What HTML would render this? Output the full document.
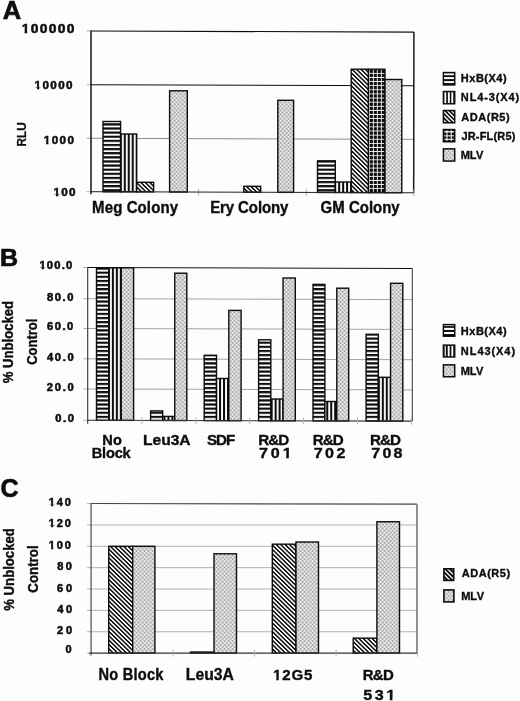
<!DOCTYPE html>
<html><head><meta charset="utf-8"><title>Figure</title>
<style>
html,body{margin:0;padding:0;background:#fdfdfd;}
body{width:520px;height:701px;overflow:hidden;}
svg{display:block;font-family:"Liberation Sans",sans-serif;font-weight:bold;font-kerning:none;fill:#0d0d0d;}
text{stroke:#0d0d0d;stroke-linejoin:round;}
</style></head><body>
<svg width="520" height="701" viewBox="0 0 520 701">
<filter id="bl" x="0" y="0" width="520" height="701" filterUnits="userSpaceOnUse"><feGaussianBlur stdDeviation="0.33"/></filter>
<g filter="url(#bl)">
<rect x="-5" y="-5" width="530" height="711" fill="#fdfdfd" stroke="none"/>

<defs>
<pattern id="ph" width="8" height="4.12" patternUnits="userSpaceOnUse" patternTransform="translate(0,3.8)">
  <rect width="8" height="4.12" fill="#fff"/><rect y="0" width="8" height="2.2" fill="#0d0d0d"/>
</pattern>
<pattern id="pv" width="3.97" height="8" patternUnits="userSpaceOnUse" patternTransform="translate(0.7,0)">
  <rect width="3.97" height="8" fill="#fff"/><rect x="0" width="2.05" height="8" fill="#0d0d0d"/>
</pattern>
<pattern id="pd" width="8" height="3.06" patternUnits="userSpaceOnUse" patternTransform="scale(1.02,1) rotate(45)">
  <rect width="8" height="3.06" fill="#fff"/><rect y="0" width="8" height="1.5" fill="#0d0d0d"/>
</pattern>
<pattern id="pg" width="3.97" height="4.12" patternUnits="userSpaceOnUse" patternTransform="translate(0.7,3.7)">
  <rect width="3.97" height="4.12" fill="#fff"/><rect x="0" y="0" width="3.1" height="3.25" fill="#0d0d0d"/>
</pattern>
<pattern id="pm" width="4.0" height="4.08" patternUnits="userSpaceOnUse" patternTransform="translate(0.6,0.3)">
  <rect width="4.0" height="4.08" fill="#f2f2f2"/>
  <path d="M-1 -1.02L5 5.1M-1 5.1L5 -1.02" stroke="#cdcdcd" stroke-width="0.85" fill="none"/>
  <circle cx="2" cy="2.04" r="0.78" fill="#848484"/><circle cx="0" cy="0" r="0.78" fill="#848484"/><circle cx="4" cy="0" r="0.78" fill="#848484"/><circle cx="0" cy="4.08" r="0.78" fill="#848484"/><circle cx="4" cy="4.08" r="0.78" fill="#848484"/>
</pattern>
</defs>

<line x1="91.00" y1="31.00" x2="413.90" y2="32.07" stroke="#111" stroke-width="1.15"/>
<line x1="91.00" y1="84.70" x2="413.90" y2="85.77" stroke="#111" stroke-width="1.05"/>
<line x1="91.00" y1="138.30" x2="413.90" y2="139.37" stroke="#808080" stroke-width="0.9"/>
<line x1="413.90" y1="32.07" x2="413.70" y2="192.77" stroke="#1a1a1a" stroke-width="1.5"/>
<line x1="86.50" y1="31.00" x2="91.00" y2="31.00" stroke="#b0b0b0" stroke-width="1"/>
<line x1="86.50" y1="84.70" x2="91.00" y2="84.70" stroke="#b0b0b0" stroke-width="1"/>
<line x1="86.50" y1="138.30" x2="91.00" y2="138.30" stroke="#b0b0b0" stroke-width="1"/>
<line x1="86.50" y1="191.70" x2="91.00" y2="191.70" stroke="#b0b0b0" stroke-width="1"/>
<line x1="198.67" y1="188.86" x2="198.67" y2="195.56" stroke="#b0b0b0" stroke-width="1"/>
<line x1="306.34" y1="189.21" x2="306.34" y2="195.91" stroke="#b0b0b0" stroke-width="1"/>
<line x1="413.90" y1="189.57" x2="413.90" y2="196.27" stroke="#b0b0b0" stroke-width="1"/>
<rect x="103.00" y="121.50" width="17.60" height="70.27" fill="url(#ph)" stroke="#0d0d0d" stroke-width="1.4"/>
<rect x="120.60" y="134.00" width="16.10" height="57.82" fill="url(#pv)" stroke="#0d0d0d" stroke-width="1.4"/>
<rect x="136.70" y="182.30" width="16.95" height="9.58" fill="url(#pd)" stroke="#0d0d0d" stroke-width="1.4"/>
<rect x="169.60" y="90.80" width="17.70" height="101.19" fill="url(#pm)" stroke="#0d0d0d" stroke-width="1.4"/>
<rect x="243.80" y="186.30" width="16.90" height="5.93" fill="url(#pd)" stroke="#0d0d0d" stroke-width="1.4"/>
<rect x="277.80" y="100.30" width="15.80" height="92.04" fill="url(#pm)" stroke="#0d0d0d" stroke-width="1.4"/>
<rect x="317.50" y="160.80" width="17.80" height="31.68" fill="url(#ph)" stroke="#0d0d0d" stroke-width="1.4"/>
<rect x="335.30" y="182.00" width="15.90" height="10.53" fill="url(#pv)" stroke="#0d0d0d" stroke-width="1.4"/>
<rect x="351.20" y="69.20" width="17.30" height="123.39" fill="url(#pd)" stroke="#0d0d0d" stroke-width="1.4"/>
<rect x="368.50" y="69.20" width="16.50" height="123.44" fill="url(#pg)" stroke="#0d0d0d" stroke-width="1.4"/>
<rect x="385.00" y="79.50" width="16.80" height="113.20" fill="url(#pm)" stroke="#0d0d0d" stroke-width="1.4"/>
<line x1="91.00" y1="30.50" x2="91.00" y2="194.20" stroke="#222" stroke-width="1.6"/>
<line x1="91.00" y1="191.70" x2="413.90" y2="192.77" stroke="#222" stroke-width="1.0"/>
<text transform="translate(22.60,32.90) scale(1.100,1.000)" x="-0.86" y="0" font-size="12.6" letter-spacing="1.212" stroke-width="0.5">100000</text>
<rect x="21.53" y="30.91" width="3.04" height="3.29" fill="#fdfdfd"/>
<rect x="27.11" y="30.91" width="2.86" height="3.29" fill="#fdfdfd"/>
<text transform="translate(35.40,89.30) scale(1.100,1.000)" x="-0.72" y="0" font-size="10.6" letter-spacing="1.262" stroke-width="0.5">10000</text>
<rect x="34.34" y="87.52" width="2.66" height="3.08" fill="#fdfdfd"/>
<rect x="39.25" y="87.52" width="2.51" height="3.08" fill="#fdfdfd"/>
<text transform="translate(44.60,143.60) scale(1.100,1.000)" x="-0.72" y="0" font-size="10.6" letter-spacing="1.284" stroke-width="0.5">1000</text>
<rect x="43.54" y="141.82" width="2.66" height="3.08" fill="#fdfdfd"/>
<rect x="48.45" y="141.82" width="2.51" height="3.08" fill="#fdfdfd"/>
<text transform="translate(54.40,196.40) scale(1.100,1.000)" x="-0.72" y="0" font-size="10.6" letter-spacing="1.101" stroke-width="0.5">100</text>
<rect x="53.34" y="194.62" width="2.66" height="3.08" fill="#fdfdfd"/>
<rect x="58.25" y="194.62" width="2.51" height="3.08" fill="#fdfdfd"/>
<text transform="translate(26.30,145.60) rotate(-90) scale(1.071,1.220)" x="-0.74" y="0" font-size="11" stroke-width="0.2">RLU</text>
<text transform="translate(3.40,19.10) scale(1.000,1.000)" x="-0.64" y="0" font-size="25.5" letter-spacing="0.000" stroke-width="0.7">A</text>
<text transform="translate(93.10,212.60) scale(1.000,1.100)" x="-1.00" y="0" font-size="15" letter-spacing="0.110" stroke-width="0.35">Meg Colony</text>
<text transform="translate(211.20,213.00) scale(1.000,1.100)" x="-1.00" y="0" font-size="15" letter-spacing="-0.100" stroke-width="0.35">Ery Colony</text>
<text transform="translate(321.20,213.40) scale(1.000,1.100)" x="-0.62" y="0" font-size="15" letter-spacing="0.004" stroke-width="0.35">GM Colony</text>
<text transform="translate(461.60,82.00) scale(1.000,1.000)" x="-0.74" y="0" font-size="11" letter-spacing="0.500" stroke-width="0.35">HxB(X4)</text>
<text transform="translate(461.60,101.35) scale(1.000,1.000)" x="-0.74" y="0" font-size="11" letter-spacing="0.868" stroke-width="0.35">NL4-3(X4)</text>
<text transform="translate(461.60,120.70) scale(1.000,1.000)" x="-0.27" y="0" font-size="11" letter-spacing="0.517" stroke-width="0.35">ADA(R5)</text>
<text transform="translate(461.60,140.05) scale(1.000,1.000)" x="-0.17" y="0" font-size="11" letter-spacing="0.170" stroke-width="0.35">JR-FL(R5)</text>
<text transform="translate(461.60,159.40) scale(1.000,1.000)" x="-0.74" y="0" font-size="11" letter-spacing="-0.354" stroke-width="0.35">MLV</text>
<clipPath id="lc1"><rect x="443.40" y="72.55" width="11.30" height="12.20"/></clipPath>
<g clip-path="url(#lc1)">
<rect x="442.65" y="71.80" width="12.80" height="13.70" fill="#0d0d0d"/>
<rect x="442.65" y="73.20" width="12.80" height="2.00" fill="#fff"/>
<rect x="442.65" y="77.10" width="12.80" height="2.00" fill="#fff"/>
<rect x="442.65" y="81.10" width="12.80" height="2.00" fill="#fff"/>
</g>
<rect x="443.40" y="72.55" width="11.30" height="12.20" fill="none" stroke="#0d0d0d" stroke-width="1.5"/>
<rect x="442.85" y="83.30" width="12.40" height="2.00" fill="#0d0d0d"/>
<clipPath id="lc2"><rect x="443.40" y="91.55" width="11.30" height="12.20"/></clipPath>
<g clip-path="url(#lc2)">
<rect x="442.65" y="90.80" width="12.80" height="13.70" fill="#0d0d0d"/>
<rect x="444.30" y="90.80" width="1.90" height="13.70" fill="#fff"/>
<rect x="447.90" y="90.80" width="1.90" height="13.70" fill="#fff"/>
<rect x="451.35" y="90.80" width="1.90" height="13.70" fill="#fff"/>
</g>
<rect x="443.40" y="91.55" width="11.30" height="12.20" fill="none" stroke="#0d0d0d" stroke-width="1.5"/>
<clipPath id="lc3"><rect x="443.40" y="110.55" width="11.30" height="12.20"/></clipPath>
<g clip-path="url(#lc3)">
<rect x="442.65" y="109.80" width="12.80" height="13.70" fill="#0d0d0d"/>
<path d="M440.65 65.40L457.45 82.20M440.65 69.70L457.45 86.50M440.65 74.00L457.45 90.80M440.65 78.30L457.45 95.10M440.65 82.60L457.45 99.40M440.65 86.90L457.45 103.70M440.65 91.20L457.45 108.00M440.65 95.50L457.45 112.30M440.65 99.80L457.45 116.60M440.65 104.10L457.45 120.90M440.65 108.40L457.45 125.20M440.65 112.70L457.45 129.50M440.65 117.00L457.45 133.80M440.65 121.30L457.45 138.10M440.65 125.60L457.45 142.40M440.65 129.90L457.45 146.70M440.65 134.20L457.45 151.00M440.65 138.50L457.45 155.30M440.65 142.80L457.45 159.60M440.65 147.10L457.45 163.90M440.65 151.40L457.45 168.20M440.65 155.70L457.45 172.50" stroke="#fff" stroke-width="1.35" fill="none"/>
</g>
<rect x="443.40" y="110.55" width="11.30" height="12.20" fill="none" stroke="#0d0d0d" stroke-width="1.5"/>
<clipPath id="lc4"><rect x="443.40" y="129.55" width="11.30" height="12.20"/></clipPath>
<g clip-path="url(#lc4)">
<rect x="442.65" y="128.80" width="12.80" height="13.70" fill="#0d0d0d"/>
<rect x="442.65" y="131.15" width="12.80" height="1.30" fill="#fff"/>
<rect x="442.65" y="135.35" width="12.80" height="1.00" fill="#fff"/>
<rect x="442.65" y="138.80" width="12.80" height="1.00" fill="#fff"/>
<rect x="446.46" y="128.80" width="1.00" height="13.70" fill="#fff"/>
<rect x="450.74" y="128.80" width="1.00" height="13.70" fill="#fff"/>
</g>
<rect x="443.40" y="129.55" width="11.30" height="12.20" fill="none" stroke="#0d0d0d" stroke-width="1.5"/>
<clipPath id="lc5"><rect x="443.40" y="148.85" width="11.30" height="12.20"/></clipPath>
<g clip-path="url(#lc5)">
<rect x="442.65" y="148.10" width="12.80" height="13.70" fill="url(#pm)"/>
</g>
<rect x="443.40" y="148.85" width="11.30" height="12.20" fill="none" stroke="#0d0d0d" stroke-width="1.5"/>
<line x1="87.70" y1="267.50" x2="412.30" y2="268.41" stroke="#111" stroke-width="1.05"/>
<line x1="87.70" y1="298.70" x2="412.30" y2="299.61" stroke="#989898" stroke-width="0.9"/>
<line x1="87.70" y1="328.50" x2="412.30" y2="329.41" stroke="#989898" stroke-width="0.9"/>
<line x1="87.70" y1="358.80" x2="412.30" y2="359.71" stroke="#989898" stroke-width="0.9"/>
<line x1="87.70" y1="389.00" x2="412.30" y2="389.91" stroke="#989898" stroke-width="0.9"/>
<line x1="412.30" y1="268.41" x2="412.30" y2="421.16" stroke="#2a2a2a" stroke-width="0.95"/>
<line x1="83.20" y1="267.50" x2="87.70" y2="267.50" stroke="#b0b0b0" stroke-width="1"/>
<line x1="83.20" y1="298.70" x2="87.70" y2="298.70" stroke="#b0b0b0" stroke-width="1"/>
<line x1="83.20" y1="328.50" x2="87.70" y2="328.50" stroke="#b0b0b0" stroke-width="1"/>
<line x1="83.20" y1="358.80" x2="87.70" y2="358.80" stroke="#b0b0b0" stroke-width="1"/>
<line x1="83.20" y1="389.00" x2="87.70" y2="389.00" stroke="#b0b0b0" stroke-width="1"/>
<line x1="83.20" y1="420.25" x2="87.70" y2="420.25" stroke="#b0b0b0" stroke-width="1"/>
<rect x="96.50" y="267.80" width="12.37" height="152.49" fill="url(#ph)" stroke="#0d0d0d" stroke-width="1.4"/>
<rect x="108.87" y="267.80" width="12.37" height="152.53" fill="url(#pv)" stroke="#0d0d0d" stroke-width="1.4"/>
<rect x="121.23" y="267.80" width="12.37" height="152.56" fill="url(#pm)" stroke="#0d0d0d" stroke-width="1.4"/>
<rect x="150.60" y="410.90" width="12.07" height="9.54" fill="url(#ph)" stroke="#0d0d0d" stroke-width="1.4"/>
<rect x="162.67" y="416.40" width="12.07" height="4.08" fill="url(#pv)" stroke="#0d0d0d" stroke-width="1.4"/>
<rect x="174.73" y="273.20" width="12.07" height="147.31" fill="url(#pm)" stroke="#0d0d0d" stroke-width="1.4"/>
<rect x="204.20" y="355.30" width="12.30" height="65.29" fill="url(#ph)" stroke="#0d0d0d" stroke-width="1.4"/>
<rect x="216.50" y="378.50" width="12.30" height="42.13" fill="url(#pv)" stroke="#0d0d0d" stroke-width="1.4"/>
<rect x="228.80" y="310.40" width="12.30" height="110.26" fill="url(#pm)" stroke="#0d0d0d" stroke-width="1.4"/>
<rect x="258.60" y="339.80" width="12.23" height="80.95" fill="url(#ph)" stroke="#0d0d0d" stroke-width="1.4"/>
<rect x="270.83" y="399.00" width="12.23" height="21.78" fill="url(#pv)" stroke="#0d0d0d" stroke-width="1.4"/>
<rect x="283.07" y="278.00" width="12.23" height="142.81" fill="url(#pm)" stroke="#0d0d0d" stroke-width="1.4"/>
<rect x="313.00" y="284.40" width="11.90" height="136.50" fill="url(#ph)" stroke="#0d0d0d" stroke-width="1.4"/>
<rect x="324.90" y="401.50" width="11.90" height="19.43" fill="url(#pv)" stroke="#0d0d0d" stroke-width="1.4"/>
<rect x="336.80" y="288.20" width="11.90" height="132.76" fill="url(#pm)" stroke="#0d0d0d" stroke-width="1.4"/>
<rect x="366.10" y="334.30" width="12.23" height="86.75" fill="url(#ph)" stroke="#0d0d0d" stroke-width="1.4"/>
<rect x="378.33" y="377.30" width="12.23" height="43.78" fill="url(#pv)" stroke="#0d0d0d" stroke-width="1.4"/>
<rect x="390.57" y="283.30" width="12.23" height="137.82" fill="url(#pm)" stroke="#0d0d0d" stroke-width="1.4"/>
<line x1="87.70" y1="267.00" x2="87.70" y2="423.75" stroke="#333" stroke-width="1.1"/>
<line x1="87.70" y1="420.25" x2="412.30" y2="421.16" stroke="#333" stroke-width="1.1"/>
<line x1="141.98" y1="417.20" x2="141.98" y2="423.90" stroke="#b0b0b0" stroke-width="1"/>
<line x1="195.86" y1="417.35" x2="195.86" y2="424.05" stroke="#b0b0b0" stroke-width="1"/>
<line x1="249.74" y1="417.50" x2="249.74" y2="424.20" stroke="#b0b0b0" stroke-width="1"/>
<line x1="303.62" y1="417.65" x2="303.62" y2="424.35" stroke="#b0b0b0" stroke-width="1"/>
<line x1="357.50" y1="417.81" x2="357.50" y2="424.51" stroke="#b0b0b0" stroke-width="1"/>
<line x1="411.38" y1="417.96" x2="411.38" y2="424.66" stroke="#b0b0b0" stroke-width="1"/>
<text transform="translate(40.20,269.30) scale(1.120,1.000)" x="-0.68" y="0" font-size="10.0" letter-spacing="1.071" stroke-width="0.5">100.0</text>
<rect x="39.14" y="267.58" width="2.58" height="3.02" fill="#fdfdfd"/>
<rect x="43.92" y="267.58" width="2.44" height="3.02" fill="#fdfdfd"/>
<text transform="translate(47.40,300.60) scale(1.120,1.000)" x="-0.32" y="0" font-size="10.0" letter-spacing="1.344" stroke-width="0.5">80.0</text>
<text transform="translate(47.40,330.40) scale(1.120,1.000)" x="-0.37" y="0" font-size="10.0" letter-spacing="1.360" stroke-width="0.5">60.0</text>
<text transform="translate(47.20,361.10) scale(1.120,1.000)" x="-0.15" y="0" font-size="10.0" letter-spacing="1.438" stroke-width="0.5">40.0</text>
<text transform="translate(47.20,391.20) scale(1.120,1.000)" x="-0.35" y="0" font-size="10.0" letter-spacing="1.503" stroke-width="0.5">20.0</text>
<text transform="translate(55.60,422.30) scale(1.120,1.000)" x="-0.40" y="0" font-size="10.0" letter-spacing="1.443" stroke-width="0.5">0.0</text>
<text transform="translate(13.20,383.00) rotate(-90) scale(1.009,1.100)" x="-0.32" y="0" font-size="13" stroke-width="0.35">% Unblocked</text>
<text transform="translate(36.90,364.30) rotate(-90) scale(0.999,1.100)" x="-0.53" y="0" font-size="13" stroke-width="0.35">Control</text>
<text transform="translate(1.60,265.60) scale(1.000,0.980)" x="-1.67" y="0" font-size="25" letter-spacing="0.000" stroke-width="0.7">B</text>
<text transform="translate(103.20,444.80) scale(1.000,1.000)" x="-0.98" y="0" font-size="14.6" letter-spacing="0.285" stroke-width="0.35">No</text>
<text transform="translate(92.70,458.00) scale(1.000,1.000)" x="-0.98" y="0" font-size="14.6" letter-spacing="-0.199" stroke-width="0.35">Block</text>
<text transform="translate(144.10,444.80) scale(1.100,1.000)" x="-0.95" y="0" font-size="14.2" letter-spacing="-0.041" stroke-width="0.35">Leu3A</text>
<text transform="translate(207.50,445.10) scale(1.000,1.000)" x="-0.44" y="0" font-size="15.2" letter-spacing="-1.103" stroke-width="0.35">SDF</text>
<text transform="translate(259.20,445.10) scale(1.000,1.000)" x="-1.02" y="0" font-size="15.2" letter-spacing="-0.938" stroke-width="0.35">R&amp;D</text>
<text transform="translate(259.80,457.70) scale(1.150,1.000)" x="-0.60" y="0" font-size="14.0" letter-spacing="2.442" stroke-width="0.35">701</text>
<rect x="282.72" y="455.65" width="3.42" height="3.28" fill="#fdfdfd"/>
<rect x="288.85" y="455.65" width="3.21" height="3.28" fill="#fdfdfd"/>
<text transform="translate(313.70,445.10) scale(1.000,1.000)" x="-1.02" y="0" font-size="15.2" letter-spacing="-0.938" stroke-width="0.35">R&amp;D</text>
<text transform="translate(314.40,457.70) scale(1.150,1.000)" x="-0.60" y="0" font-size="14.0" letter-spacing="2.119" stroke-width="0.35">702</text>
<text transform="translate(370.90,445.10) scale(1.000,1.000)" x="-1.02" y="0" font-size="15.2" letter-spacing="-0.938" stroke-width="0.35">R&amp;D</text>
<text transform="translate(371.90,457.70) scale(1.150,1.000)" x="-0.60" y="0" font-size="14.0" letter-spacing="1.924" stroke-width="0.35">708</text>
<text transform="translate(461.60,335.00) scale(1.000,1.000)" x="-0.74" y="0" font-size="11" letter-spacing="0.500" stroke-width="0.35">HxB(X4)</text>
<text transform="translate(461.60,355.20) scale(1.000,1.000)" x="-0.74" y="0" font-size="11" letter-spacing="0.929" stroke-width="0.35">NL43(X4)</text>
<text transform="translate(461.60,375.30) scale(1.000,1.000)" x="-0.74" y="0" font-size="11" letter-spacing="-0.354" stroke-width="0.35">MLV</text>
<clipPath id="lc6"><rect x="443.40" y="324.60" width="11.30" height="11.55"/></clipPath>
<g clip-path="url(#lc6)">
<rect x="442.65" y="323.85" width="12.80" height="13.05" fill="#0d0d0d"/>
<rect x="442.65" y="325.10" width="12.80" height="1.00" fill="#fff"/>
<rect x="442.65" y="327.85" width="12.80" height="2.10" fill="#fff"/>
<rect x="442.65" y="331.95" width="12.80" height="2.10" fill="#fff"/>
</g>
<rect x="443.40" y="324.60" width="11.30" height="11.55" fill="none" stroke="#0d0d0d" stroke-width="1.5"/>
<rect x="442.85" y="334.50" width="12.40" height="2.20" fill="#0d0d0d"/>
<clipPath id="lc7"><rect x="443.40" y="345.15" width="11.30" height="11.80"/></clipPath>
<g clip-path="url(#lc7)">
<rect x="442.65" y="344.40" width="12.80" height="13.30" fill="#0d0d0d"/>
<rect x="444.60" y="344.40" width="1.20" height="13.30" fill="#fff"/>
<rect x="447.75" y="344.40" width="1.90" height="13.30" fill="#fff"/>
<rect x="451.35" y="344.40" width="1.90" height="13.30" fill="#fff"/>
</g>
<rect x="443.40" y="345.15" width="11.30" height="11.80" fill="none" stroke="#0d0d0d" stroke-width="1.5"/>
<clipPath id="lc8"><rect x="443.40" y="364.85" width="11.30" height="11.90"/></clipPath>
<g clip-path="url(#lc8)">
<rect x="442.65" y="364.10" width="12.80" height="13.40" fill="url(#pm)"/>
</g>
<rect x="443.40" y="364.85" width="11.30" height="11.90" fill="none" stroke="#0d0d0d" stroke-width="1.5"/>
<line x1="91.10" y1="503.50" x2="417.00" y2="504.20" stroke="#4a4a4a" stroke-width="1.2"/>
<line x1="91.10" y1="524.96" x2="417.00" y2="524.96" stroke="#a8a8a8" stroke-width="0.9"/>
<line x1="91.10" y1="546.31" x2="417.00" y2="546.31" stroke="#a8a8a8" stroke-width="0.9"/>
<line x1="91.10" y1="567.67" x2="417.00" y2="567.67" stroke="#a8a8a8" stroke-width="0.9"/>
<line x1="91.10" y1="589.03" x2="417.00" y2="589.03" stroke="#a8a8a8" stroke-width="0.9"/>
<line x1="91.10" y1="610.39" x2="417.00" y2="610.39" stroke="#a8a8a8" stroke-width="0.9"/>
<line x1="91.10" y1="631.74" x2="417.00" y2="631.74" stroke="#a8a8a8" stroke-width="0.9"/>
<line x1="417.00" y1="504.20" x2="417.00" y2="653.10" stroke="#4a4a4a" stroke-width="1.2"/>
<line x1="87.10" y1="503.60" x2="91.10" y2="503.60" stroke="#b0b0b0" stroke-width="1"/>
<line x1="87.10" y1="524.96" x2="91.10" y2="524.96" stroke="#b0b0b0" stroke-width="1"/>
<line x1="87.10" y1="546.31" x2="91.10" y2="546.31" stroke="#b0b0b0" stroke-width="1"/>
<line x1="87.10" y1="567.67" x2="91.10" y2="567.67" stroke="#b0b0b0" stroke-width="1"/>
<line x1="87.10" y1="589.03" x2="91.10" y2="589.03" stroke="#b0b0b0" stroke-width="1"/>
<line x1="87.10" y1="610.39" x2="91.10" y2="610.39" stroke="#b0b0b0" stroke-width="1"/>
<line x1="87.10" y1="631.74" x2="91.10" y2="631.74" stroke="#b0b0b0" stroke-width="1"/>
<line x1="87.10" y1="653.10" x2="91.10" y2="653.10" stroke="#b0b0b0" stroke-width="1"/>
<rect x="108.70" y="546.31" width="24.00" height="106.79" fill="url(#pd)" stroke="#0d0d0d" stroke-width="1.4"/>
<rect x="132.70" y="546.31" width="22.20" height="106.79" fill="url(#pm)" stroke="#0d0d0d" stroke-width="1.4"/>
<rect x="190.50" y="652.03" width="23.50" height="1.07" fill="url(#pd)" stroke="#0d0d0d" stroke-width="1.4"/>
<rect x="214.00" y="553.79" width="22.50" height="99.31" fill="url(#pm)" stroke="#0d0d0d" stroke-width="1.4"/>
<rect x="272.30" y="544.18" width="23.70" height="108.92" fill="url(#pd)" stroke="#0d0d0d" stroke-width="1.4"/>
<rect x="296.00" y="542.04" width="22.50" height="111.06" fill="url(#pm)" stroke="#0d0d0d" stroke-width="1.4"/>
<rect x="353.20" y="638.15" width="23.70" height="14.95" fill="url(#pd)" stroke="#0d0d0d" stroke-width="1.4"/>
<rect x="376.90" y="521.75" width="22.60" height="131.35" fill="url(#pm)" stroke="#0d0d0d" stroke-width="1.4"/>
<line x1="91.10" y1="503.10" x2="91.10" y2="655.60" stroke="#4a4a4a" stroke-width="1.2"/>
<line x1="89.10" y1="653.20" x2="417.00" y2="653.20" stroke="#333" stroke-width="1.3"/>
<line x1="173.17" y1="649.90" x2="173.17" y2="656.60" stroke="#b0b0b0" stroke-width="1"/>
<line x1="254.65" y1="649.90" x2="254.65" y2="656.60" stroke="#b0b0b0" stroke-width="1"/>
<line x1="336.12" y1="649.90" x2="336.12" y2="656.60" stroke="#b0b0b0" stroke-width="1"/>
<line x1="417.60" y1="649.90" x2="417.60" y2="656.60" stroke="#b0b0b0" stroke-width="1"/>
<text transform="translate(49.60,506.00) scale(1.100,1.000)" x="-0.68" y="0" font-size="10.0" letter-spacing="1.614" stroke-width="0.5">140</text>
<rect x="48.54" y="504.28" width="2.55" height="3.02" fill="#fdfdfd"/>
<rect x="53.25" y="504.28" width="2.41" height="3.02" fill="#fdfdfd"/>
<text transform="translate(49.60,527.40) scale(1.100,1.000)" x="-0.68" y="0" font-size="10.0" letter-spacing="1.614" stroke-width="0.5">120</text>
<rect x="48.54" y="525.68" width="2.55" height="3.02" fill="#fdfdfd"/>
<rect x="53.25" y="525.68" width="2.41" height="3.02" fill="#fdfdfd"/>
<text transform="translate(49.60,548.70) scale(1.100,1.000)" x="-0.68" y="0" font-size="10.0" letter-spacing="1.614" stroke-width="0.5">100</text>
<rect x="48.54" y="546.98" width="2.55" height="3.02" fill="#fdfdfd"/>
<rect x="53.25" y="546.98" width="2.41" height="3.02" fill="#fdfdfd"/>
<text transform="translate(57.60,570.00) scale(1.100,1.000)" x="-0.32" y="0" font-size="10.0" letter-spacing="2.059" stroke-width="0.5">80</text>
<text transform="translate(57.30,591.60) scale(1.100,1.000)" x="-0.37" y="0" font-size="10.0" letter-spacing="2.744" stroke-width="0.5">60</text>
<text transform="translate(57.30,612.80) scale(1.100,1.000)" x="-0.15" y="0" font-size="10.0" letter-spacing="2.529" stroke-width="0.5">40</text>
<text transform="translate(57.30,634.00) scale(1.100,1.000)" x="-0.35" y="0" font-size="10.0" letter-spacing="2.725" stroke-width="0.5">20</text>
<text transform="translate(66.00,653.00) scale(1.100,1.000)" x="-0.40" y="0" font-size="10.0" letter-spacing="0.000" stroke-width="0.5">0</text>
<text transform="translate(14.30,610.40) rotate(-90) scale(1.012,1.100)" x="-0.32" y="0" font-size="13" stroke-width="0.35">% Unblocked</text>
<text transform="translate(38.30,592.10) rotate(-90) scale(1.023,1.100)" x="-0.53" y="0" font-size="13" stroke-width="0.35">Control</text>
<text transform="translate(1.40,496.90) scale(1.000,1.000)" x="-1.03" y="0" font-size="25" letter-spacing="0.000" stroke-width="0.7">C</text>
<text transform="translate(99.40,679.80) scale(1.000,1.130)" x="-0.98" y="0" font-size="14.6" letter-spacing="0.255" stroke-width="0.35">No Block</text>
<text transform="translate(186.90,679.80) scale(1.000,1.000)" x="-1.05" y="0" font-size="15.7" letter-spacing="-0.004" stroke-width="0.35">Leu3A</text>
<text transform="translate(274.00,679.90) scale(1.050,1.000)" x="-0.98" y="0" font-size="14.4" letter-spacing="0.815" stroke-width="0.35">12G5</text>
<rect x="272.99" y="677.81" width="3.27" height="3.32" fill="#fdfdfd"/>
<rect x="278.80" y="677.81" width="3.08" height="3.32" fill="#fdfdfd"/>
<text transform="translate(363.70,679.90) scale(1.000,1.000)" x="-1.00" y="0" font-size="15.0" letter-spacing="-0.732" stroke-width="0.35">R&amp;D</text>
<text transform="translate(363.70,699.90) scale(1.150,1.000)" x="-0.43" y="0" font-size="14.0" letter-spacing="2.226" stroke-width="0.35">531</text>
<rect x="386.32" y="697.85" width="3.42" height="3.28" fill="#fdfdfd"/>
<rect x="392.45" y="697.85" width="3.21" height="3.28" fill="#fdfdfd"/>
<text transform="translate(462.00,577.20) scale(1.000,1.000)" x="-0.27" y="0" font-size="11" letter-spacing="0.534" stroke-width="0.35">ADA(R5)</text>
<text transform="translate(462.00,600.30) scale(1.000,1.000)" x="-0.74" y="0" font-size="11" letter-spacing="-0.204" stroke-width="0.35">MLV</text>
<clipPath id="lc9"><rect x="443.90" y="568.80" width="9.80" height="11.60"/></clipPath>
<g clip-path="url(#lc9)">
<rect x="443.10" y="568.00" width="11.40" height="13.20" fill="#0d0d0d"/>
<path d="M441.10 522.00L456.50 537.40M441.10 526.50L456.50 541.90M441.10 531.00L456.50 546.40M441.10 535.50L456.50 550.90M441.10 540.00L456.50 555.40M441.10 544.50L456.50 559.90M441.10 549.00L456.50 564.40M441.10 553.50L456.50 568.90M441.10 558.00L456.50 573.40M441.10 562.50L456.50 577.90M441.10 567.00L456.50 582.40M441.10 571.50L456.50 586.90M441.10 576.00L456.50 591.40M441.10 580.50L456.50 595.90M441.10 585.00L456.50 600.40M441.10 589.50L456.50 604.90M441.10 594.00L456.50 609.40M441.10 598.50L456.50 613.90M441.10 603.00L456.50 618.40M441.10 607.50L456.50 622.90M441.10 612.00L456.50 627.40M441.10 616.50L456.50 631.90" stroke="#fff" stroke-width="1.35" fill="none"/>
</g>
<rect x="443.90" y="568.80" width="9.80" height="11.60" fill="none" stroke="#0d0d0d" stroke-width="1.6"/>
<clipPath id="lc10"><rect x="443.90" y="589.90" width="10.00" height="12.00"/></clipPath>
<g clip-path="url(#lc10)">
<rect x="443.10" y="589.10" width="11.60" height="13.60" fill="url(#pm)"/>
</g>
<rect x="443.90" y="589.90" width="10.00" height="12.00" fill="none" stroke="#0d0d0d" stroke-width="1.6"/>
</g>
</svg>
</body></html>
